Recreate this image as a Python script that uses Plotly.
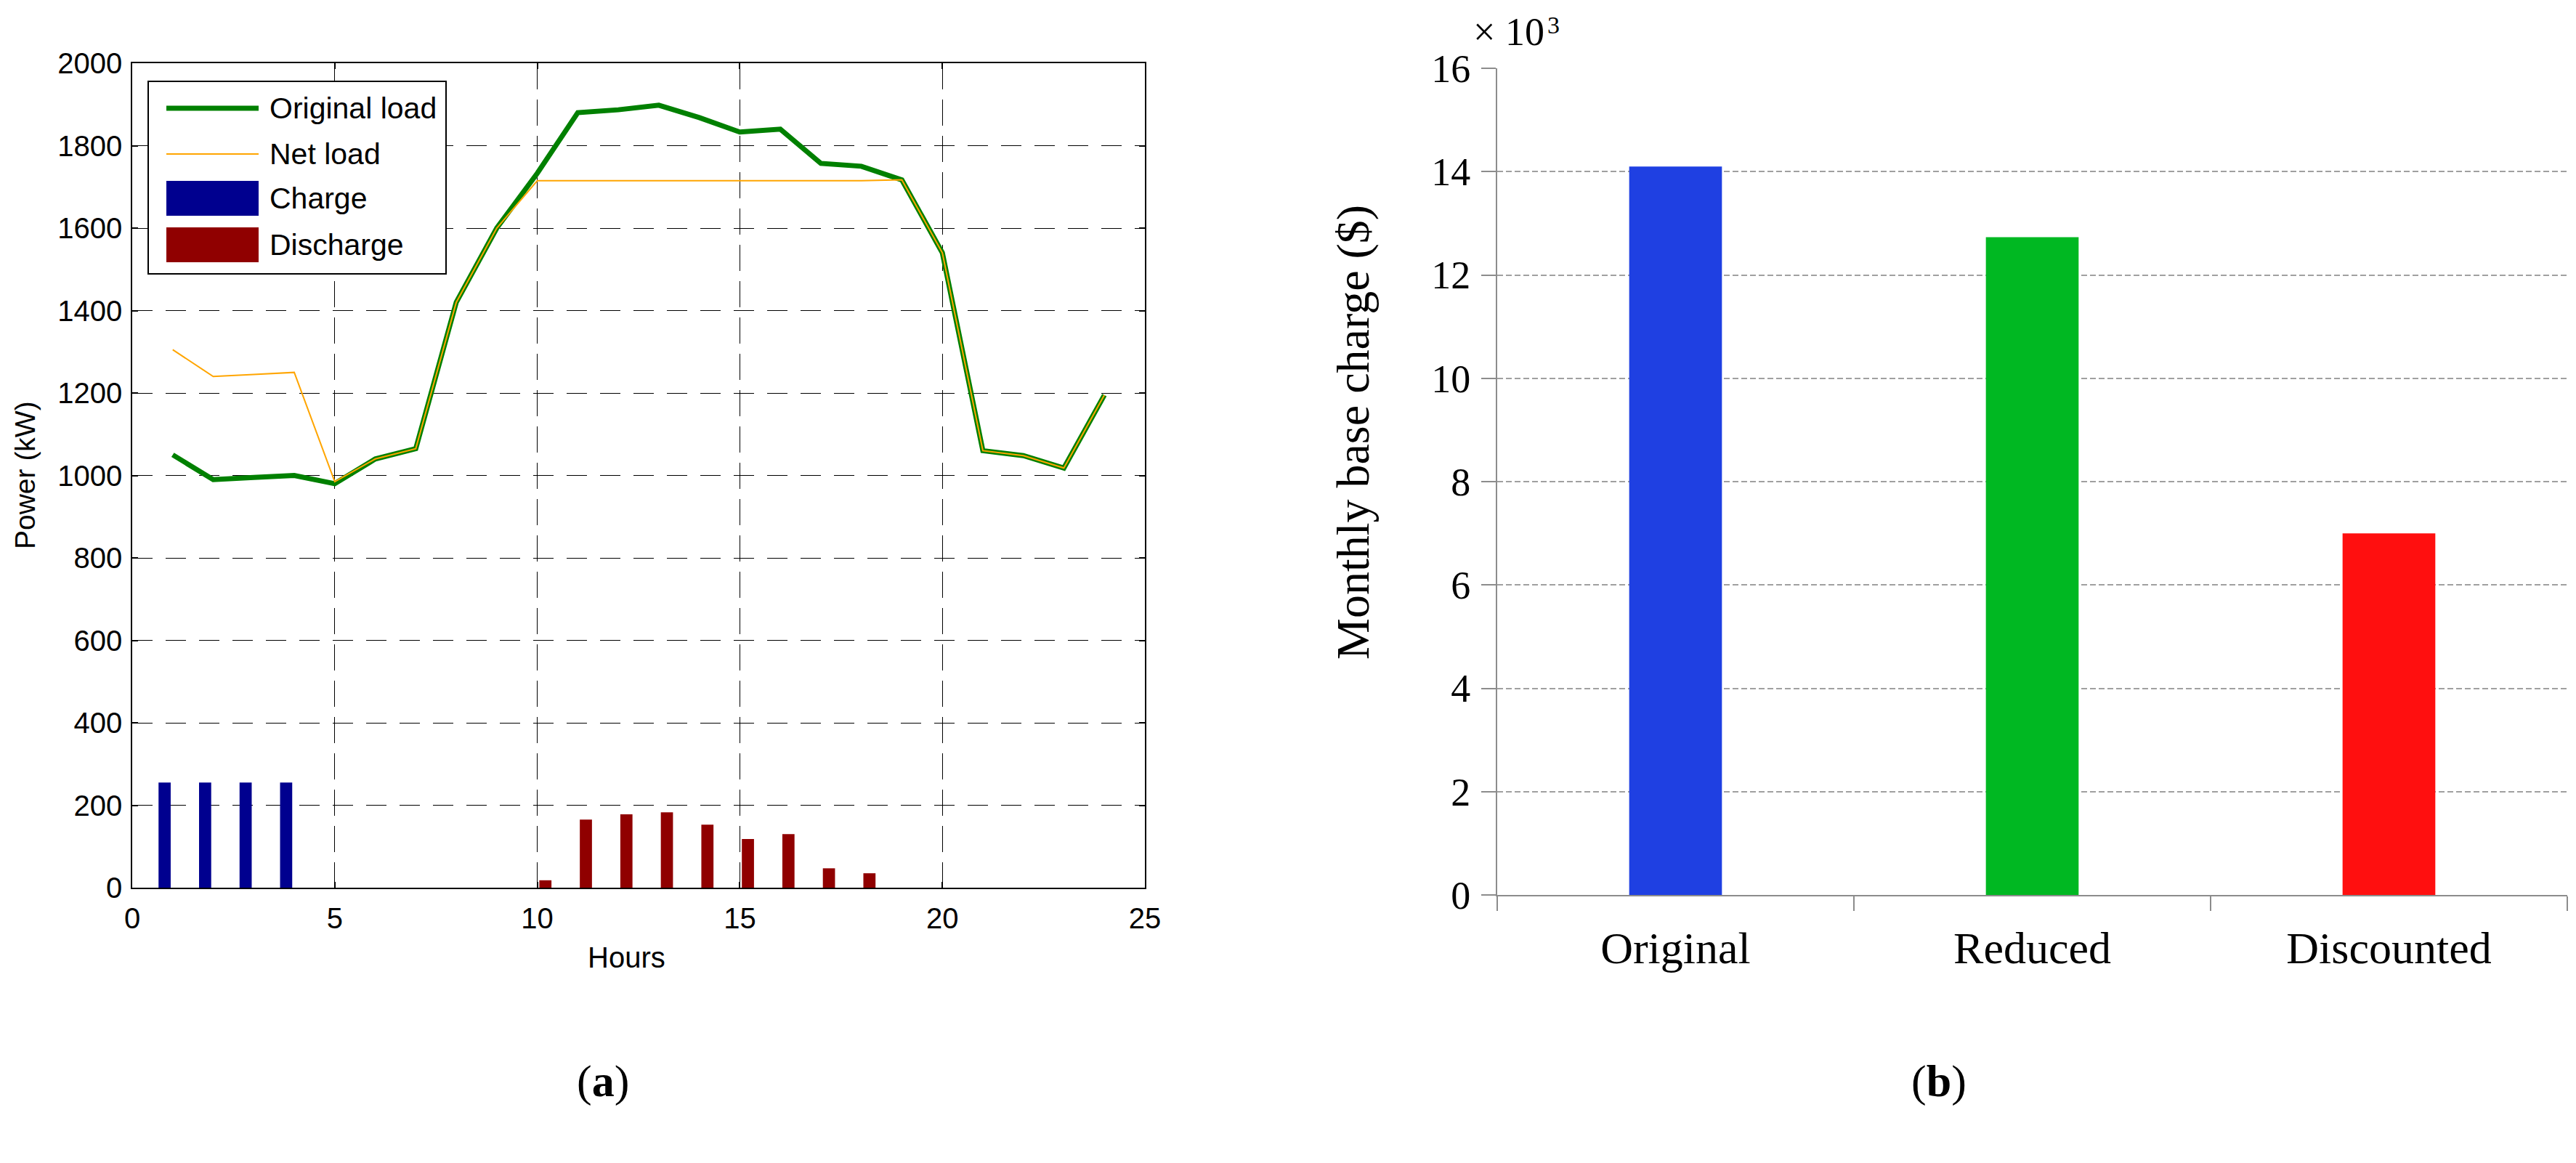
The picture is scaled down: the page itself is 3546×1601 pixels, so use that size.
import plotly.graph_objects as go

W, H = 3546, 1601
BODY = 8  # page margin the browser adds around the figure

# ---- panel (a) data: hourly load profile (kW) ----
hours = list(range(1, 25))
original_load = [1050, 990, 995, 1000, 980, 1040, 1065, 1420, 1600, 1733, 1880, 1887,
                 1898, 1868, 1833, 1840, 1757, 1750, 1717, 1540, 1060, 1048, 1018, 1195]
net_load = [1305, 1240, 1245, 1250, 985, 1040, 1065, 1420, 1600, 1715, 1715, 1715,
            1715, 1715, 1715, 1715, 1715, 1715, 1717, 1540, 1060, 1048, 1018, 1195]
charge = [255, 255, 255, 255, 0, 0, 0, 0, 0, 0, 0, 0,
          0, 0, 0, 0, 0, 0, 0, 0, 0, 0, 0, 0]
discharge = [0, 0, 0, 0, 0, 0, 0, 0, 0, 18, 165, 178,
             183, 153, 118, 130, 47, 35, 0, 0, 0, 0, 0, 0]

# ---- panel (b) data: monthly base charge (x10^3 $) ----
charge_types = ["Original", "Reduced", "Discounted"]
base_charge = [14.1, 12.73, 7.0]
base_colors = ["#1F40E2", "#00B822", "#FF0F0F"]

GREEN, ORANGE, BLUE, RED = "#008000", "#FFA500", "#00008F", "#900000"
SANS = "Liberation Sans, Arial, sans-serif"
SERIF = "Liberation Serif, Times New Roman, serif"


def px(x):
    return (x - BODY) / W


def py(y):
    return 1 - (y - BODY) / H


fig = go.Figure()

fig.add_trace(go.Bar(x=hours, y=charge, width=0.3, offset=-0.35,
                     marker=dict(color=BLUE, line_width=0), name="Charge"))
fig.add_trace(go.Bar(x=hours, y=discharge, width=0.3, offset=0.05,
                     marker=dict(color=RED, line_width=0), name="Discharge"))
fig.add_trace(go.Scatter(x=hours, y=original_load, mode="lines",
                         line=dict(color=GREEN, width=7), name="Original load"))
fig.add_trace(go.Scatter(x=hours, y=net_load, mode="lines",
                         line=dict(color=ORANGE, width=2), name="Net load"))

fig.add_trace(go.Bar(x=charge_types, y=base_charge, width=0.26,
                     marker=dict(color=base_colors, line_width=0),
                     xaxis="x2", yaxis="y2"))

axis_a = dict(showline=True, linecolor="black", linewidth=1.5, mirror="allticks",
              ticks="inside", ticklen=8, tickcolor="black", tickwidth=1.5,
              showgrid=True, gridcolor="black", gridwidth=1, zeroline=False,
              automargin=False,
              tickfont=dict(family=SANS, size=40, color="black"))
axis_b = dict(showline=True, linecolor="#8c8c8c", linewidth=2, ticks="outside",
              ticklen=20, tickcolor="#8c8c8c", tickwidth=2, zeroline=False,
              automargin=False,
              tickfont=dict(family=SERIF, size=54, color="black"))

fig.update_layout(
    width=W, height=H, margin=dict(l=0, r=0, t=0, b=0),
    paper_bgcolor="white", plot_bgcolor="white",
    showlegend=False, barmode="overlay",
    xaxis=dict(axis_a, domain=[px(182), px(1576)], range=[0, 25],
               tickvals=[0, 5, 10, 15, 20, 25], griddash="36px,14px",
               ticklabelstandoff=6, anchor="y"),
    yaxis=dict(axis_a, domain=[py(1222), py(87)], range=[0, 2000], dtick=200,
               griddash="28px,18px", ticklabelstandoff=4, anchor="x"),
    xaxis2=dict(axis_b, domain=[px(2061), px(3534)], anchor="y2",
                tickson="boundaries", showgrid=False, ticklabelstandoff=18,
                tickfont=dict(family=SERIF, size=62, color="black")),
    yaxis2=dict(axis_b, domain=[py(1232), py(94)], anchor="x2", range=[0, 16],
                dtick=2, showgrid=True, gridcolor="#a0a0a0", gridwidth=2,
                griddash="8px,4px", ticklabelstandoff=4),
)

# legend for panel (a), drawn as a boxed key
shapes = [
    dict(type="rect", xref="paper", yref="paper", x0=px(204), x1=px(614),
         y0=py(377), y1=py(112), line=dict(color="black", width=2),
         fillcolor="white", layer="above"),
    dict(type="line", xref="paper", yref="paper", x0=px(229), x1=px(356),
         y0=py(149), y1=py(149), line=dict(color=GREEN, width=7), layer="above"),
    dict(type="line", xref="paper", yref="paper", x0=px(229), x1=px(356),
         y0=py(212), y1=py(212), line=dict(color=ORANGE, width=2), layer="above"),
    dict(type="rect", xref="paper", yref="paper", x0=px(229), x1=px(356),
         y0=py(297), y1=py(249), line_width=0, fillcolor=BLUE, layer="above"),
    dict(type="rect", xref="paper", yref="paper", x0=px(229), x1=px(356),
         y0=py(361), y1=py(313), line_width=0, fillcolor=RED, layer="above"),
]
fig.update_layout(shapes=shapes)

legend_items = [("Original load", 149), ("Net load", 212), ("Charge", 273), ("Discharge", 337)]
for text, ypix in legend_items:
    fig.add_annotation(x=px(369), y=py(ypix), xref="paper", yref="paper", text=text,
                       showarrow=False, xanchor="left", yanchor="middle",
                       font=dict(family=SANS, size=41, color="black"))


def note(x, y, text, size, family, angle=0, xanchor="center", yanchor="middle"):
    fig.add_annotation(x=px(x), y=py(y), xref="paper", yref="paper", text=text,
                       textangle=angle, showarrow=False, xanchor=xanchor,
                       yanchor=yanchor, font=dict(family=family, size=size, color="black"))


note(34, 654, "Power (kW)", 39, SANS, angle=-90)
note(862, 1318, "Hours", 40, SANS)
note(1862, 595, "Monthly base charge ($)", 64, SERIF, angle=-90)
note(2026, 44, "\u00d7 10", 54, SERIF, xanchor="left")
note(2128, 34, "3", 34, SERIF, xanchor="left")
note(830, 1488, "(<b>a</b>)", 62, SERIF)
note(2669, 1488, "(<b>b</b>)", 62, SERIF)

fig.write_html("out.html")
